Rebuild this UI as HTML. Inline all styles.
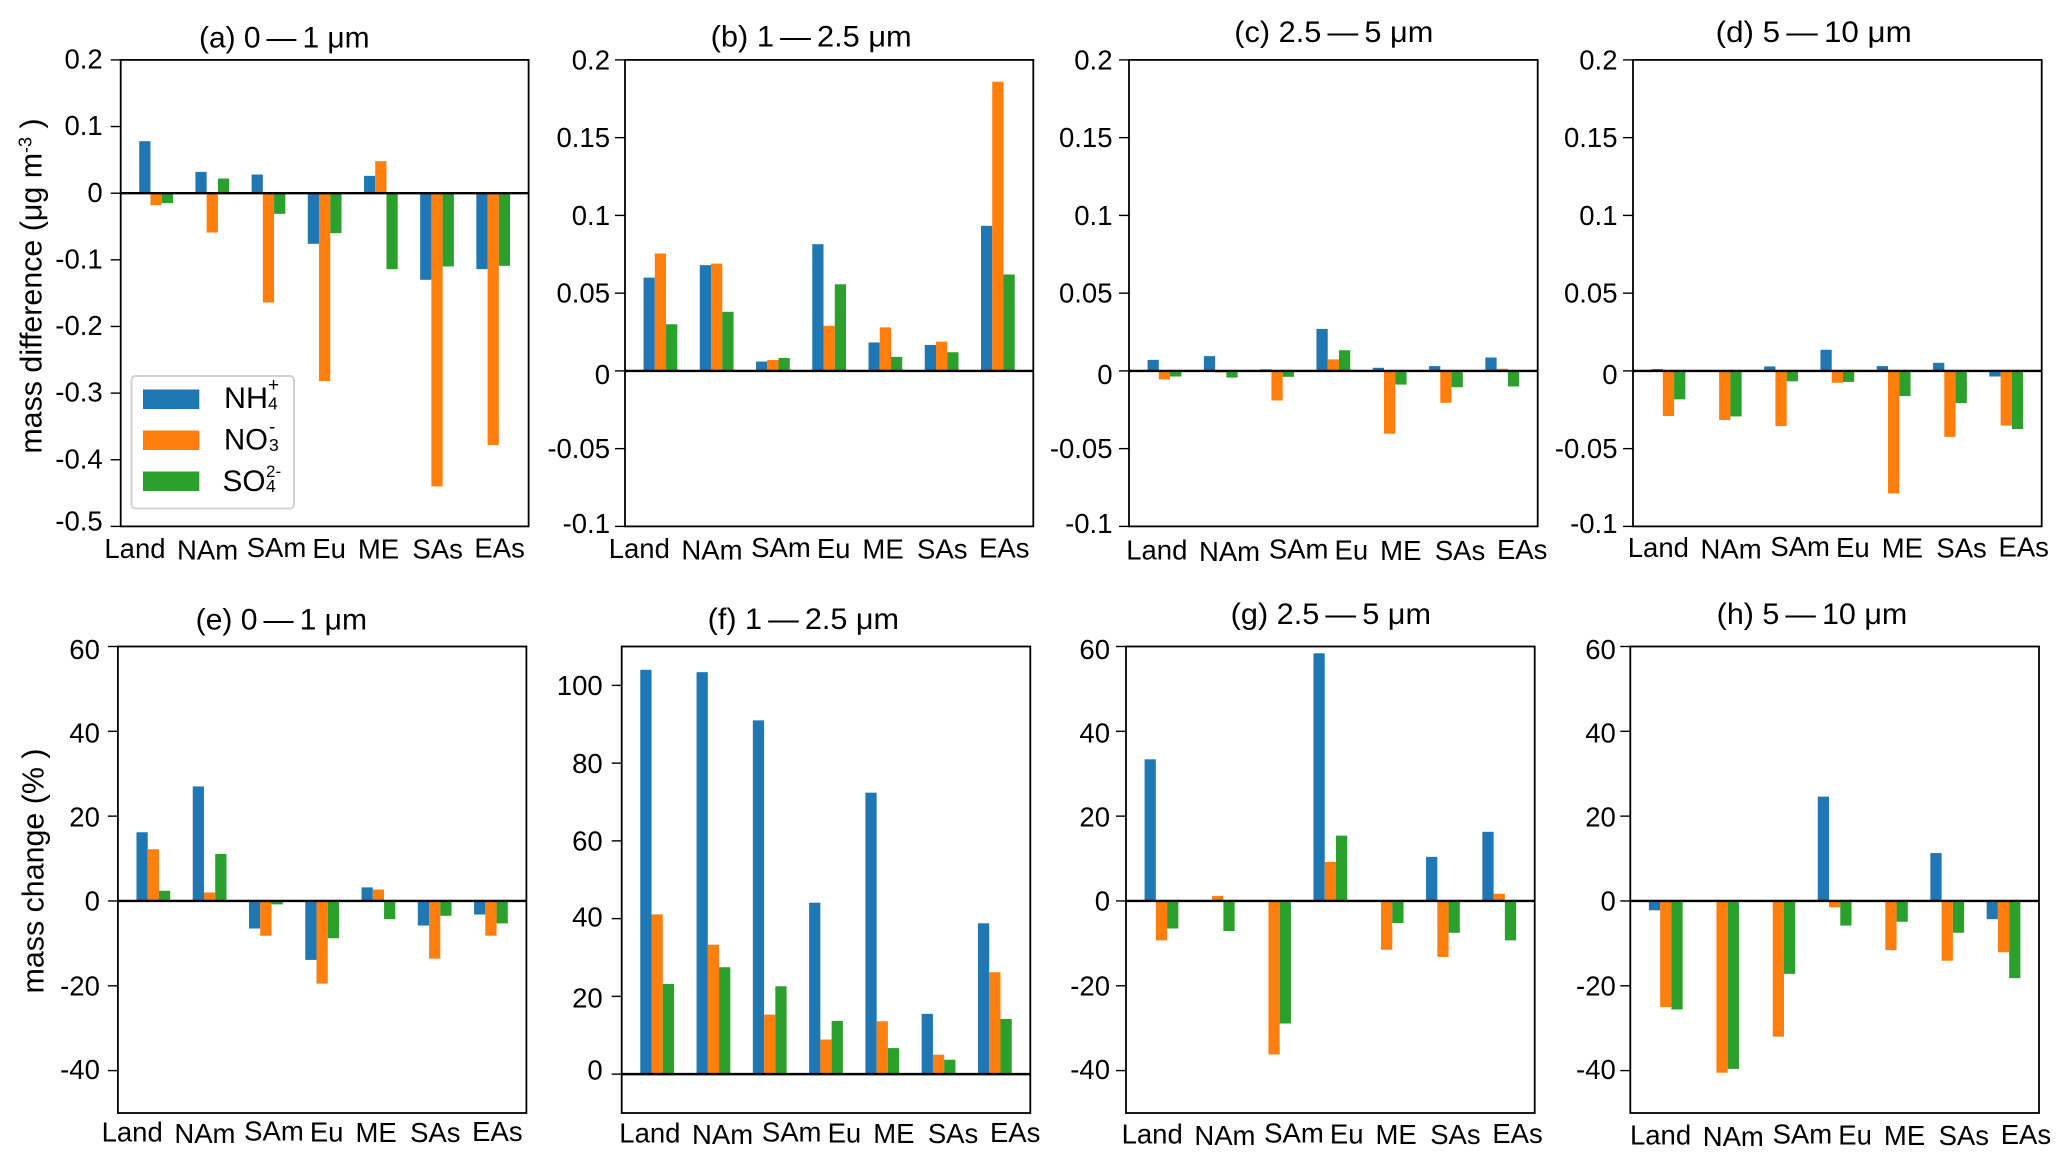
<!DOCTYPE html>
<html lang="en">
<head>
<meta charset="utf-8">
<title>Aerosol mass difference and change by size bin</title>
<style>
html,body{margin:0;padding:0;background:#fff;}
svg{display:block;}
text{font-family:"Liberation Sans",Arial,sans-serif;fill:#000;}
</style>
</head>
<body>
<svg id="figure" xmlns="http://www.w3.org/2000/svg" width="2067" height="1164" viewBox="0 0 2067 1164">
  <rect x="0" y="0" width="2067" height="1164" fill="#fff"/>
  <g id="panels"></g>
  <text font-size="30.4" text-anchor="middle" transform="translate(41.5 286) rotate(-90)">mass difference (μg m<tspan font-size="18" dy="-10">-3</tspan><tspan dy="10"> )</tspan></text>
  <text font-size="30.4" text-anchor="middle" transform="translate(43.5 871) rotate(-90)">mass change (% )</text>
  <g>
    <rect x="131.5" y="376" width="162.5" height="132.5" rx="4" ry="4" fill="#fff" stroke="#d2d2d2" stroke-width="2"/>
    <g>
      <rect x="143" y="389.5" width="56.3" height="19.5" fill="#1f77b4"/>
      <text x="224" y="408" font-size="30" textLength="44" lengthAdjust="spacingAndGlyphs">NH</text>
      <text x="268" y="409.5" font-size="17.5">4</text>
      <text x="268" y="391" font-size="19">+</text>
    </g>
    <g>
      <rect x="143" y="430.5" width="56.3" height="19.5" fill="#ff7f0e"/>
      <text x="224" y="449.5" font-size="30" textLength="44" lengthAdjust="spacingAndGlyphs">NO</text>
      <text x="269" y="451" font-size="17.5">3</text>
      <text x="269" y="433" font-size="19">-</text>
    </g>
    <g>
      <rect x="143" y="471.5" width="56.3" height="19.5" fill="#2ca02c"/>
      <text x="222.5" y="491" font-size="30" textLength="43" lengthAdjust="spacingAndGlyphs">SO</text>
      <text x="266" y="492" font-size="17.5">4</text>
      <text x="266" y="477" font-size="17">2-</text>
    </g>
  </g>
</svg>
<script>
// ---------- categories ----------
const categories = ["Land", "NAm", "SAm", "Eu", "ME", "SAs", "EAs"];

// ---------- tick labels ----------
const ticksA = [0.2, 0.1, 0, -0.1, -0.2, -0.3, -0.4, -0.5];
const ticksBCD = [0.2, 0.15, 0.1, 0.05, 0, -0.05, -0.1];
const ticksEGH = [60, 40, 20, 0, -20, -40];
const ticksF = [100, 80, 60, 40, 20, 0];

// ---------- series values ----------
const aNH4 = [0.078, 0.032, 0.028, -0.076, 0.026, -0.130, -0.114];
const aNO3 = [-0.018, -0.059, -0.164, -0.282, 0.048, -0.440, -0.378];
const aSO4 = [-0.015, 0.022, -0.031, -0.060, -0.114, -0.110, -0.109];

const bNH4 = [0.060, 0.068, 0.006, 0.0815, 0.0183, 0.0167, 0.0933];
const bNO3 = [0.0755, 0.069, 0.007, 0.029, 0.028, 0.0188, 0.186];
const bSO4 = [0.030, 0.038, 0.0083, 0.0557, 0.009, 0.012, 0.062];

const cNH4 = [0.0071, 0.0095, 0.001, 0.027, 0.002, 0.0031, 0.0086];
const cNO3 = [-0.0055, -0.001, -0.019, 0.0074, -0.0404, -0.0205, 0.0014];
const cSO4 = [-0.0036, -0.0043, -0.0038, 0.0133, -0.0088, -0.0105, -0.010];

const dNH4 = [0.0012, 0, 0.0029, 0.0136, 0.0031, 0.0052, -0.0036];
const dNO3 = [-0.029, -0.0316, -0.0355, -0.0076, -0.0788, -0.0424, -0.0352];
const dSO4 = [-0.0183, -0.0293, -0.0067, -0.0071, -0.0162, -0.0207, -0.0374];

const eNH4 = [16.2, 27, -6.5, -13.9, 3.2, -5.8, -3.2];
const eNO3 = [12.2, 2, -8.2, -19.5, 2.7, -13.6, -8.2];
const eSO4 = [2.4, 11.1, -0.8, -8.8, -4.3, -3.5, -5.3];

const fNH4 = [104, 103.4, 91, 44.1, 72.4, 15.5, 38.8];
const fNO3 = [41.1, 33.3, 15.3, 8.9, 13.6, 5, 26.2];
const fSO4 = [23.2, 27.5, 22.6, 13.7, 6.7, 3.7, 14.2];

const gNH4 = [33.4, 0, 0, 58.4, 0, 10.4, 16.3];
const gNO3 = [-9.3, 1.2, -36.2, 9.2, -11.5, -13.2, 1.7];
const gSO4 = [-6.5, -7.1, -28.9, 15.4, -5.2, -7.5, -9.3];

const hNH4 = [-2.2, 0, 0, 24.6, 0, 11.3, -4.3];
const hNO3 = [-25, -40.5, -32, -1.5, -11.6, -14.1, -12.1];
const hSO4 = [-25.6, -39.6, -17.2, -5.8, -4.9, -7.5, -18.2];

// ---------- series styling ----------
const seriesNames = ["nh4", "no3", "so4"];
const seriesColors = ["#1f77b4", "#ff7f0e", "#2ca02c"];

// ---------- layout ----------
const xMin = -0.63, xMax = 6.63, barWidth = 0.2;
const catLabelFrac = [0.035, 0.213, 0.382, 0.511, 0.632, 0.777, 0.929];
const catLabelDy = [0, 1.5, -1, 0, 0.5, 0.5, -0.5];
const topRowBox = { top: 59.9, bottom: 526.4 };
const botRowBox = { top: 646.5, bottom: 1113 };

// small hand-placed baseline offsets of individual y tick labels, keyed by tick text
const nudgeA = { "-0.5": -4.5 };
const nudgeBCD = { "0": 3.5, "-0.1": -3 };
const nudgeEGH = { "60": 3, "40": 1.5, "20": 1, "-40": -1 };
const nudgeF = { "0": -4.5, "40": -2, "20": 1.5 };

const panels = [
  { id: "a", title: "(a) 0\u2009—\u20091 μm", tx: [199, 369.6], tb: 47.4, left: 120.7, right: 528.6, row: topRowBox, yMin: -0.5, yMax: 0.2, ticks: ticksA, nudge: nudgeA, base: 8.6, nh4: aNH4, no3: aNO3, so4: aSO4, lblOff: -18, catShift: 0, catBase: 557.9 },
  { id: "b", title: "(b) 1\u2009—\u20092.5 μm", tx: [710.7, 911.7], tb: 46.6, left: 625, right: 1033.3, row: topRowBox, yMin: -0.1, yMax: 0.2, ticks: ticksBCD, nudge: nudgeBCD, base: 9.5, nh4: bNH4, no3: bNO3, so4: bSO4, lblOff: -15, catShift: 0, catBase: 557.9 },
  { id: "c", title: "(c) 2.5\u2009—\u20095 μm", tx: [1234.3, 1433.3], tb: 41.8, left: 1129, right: 1537.7, row: topRowBox, yMin: -0.1, yMax: 0.2, ticks: ticksBCD, nudge: nudgeBCD, base: 9.5, nh4: cNH4, no3: cNO3, so4: cSO4, lblOff: -16.5, catShift: 0.033, catBase: 559.4 },
  { id: "d", title: "(d) 5\u2009—\u200910 μm", tx: [1715.7, 1911.7], tb: 41.8, left: 1633, right: 2041.7, row: topRowBox, yMin: -0.1, yMax: 0.2, ticks: ticksBCD, nudge: nudgeBCD, base: 9.5, nh4: dNH4, no3: dNO3, so4: dSO4, lblOff: -15.5, catShift: 0.027, catBase: 557.2 },
  { id: "e", title: "(e) 0\u2009—\u20091 μm", tx: [195.7, 367], tb: 629.5, left: 117.9, right: 526.4, row: botRowBox, yMin: -50, yMax: 60, ticks: ticksEGH, nudge: nudgeEGH, base: 9.5, nh4: eNH4, no3: eNO3, so4: eSO4, lblOff: -18, catShift: 0, catBase: 1141.5 },
  { id: "f", title: "(f) 1\u2009—\u20092.5 μm", tx: [707.7, 899], tb: 629.1, left: 621.7, right: 1030.3, row: botRowBox, yMin: -10, yMax: 110, ticks: ticksF, nudge: nudgeF, base: 9.8, nh4: fNH4, no3: fNO3, so4: fSO4, lblOff: -19, catShift: 0.034, catBase: 1142.6 },
  { id: "g", title: "(g) 2.5\u2009—\u20095 μm", tx: [1230.7, 1431], tb: 624, left: 1126, right: 1534.7, row: botRowBox, yMin: -50, yMax: 60, ticks: ticksEGH, nudge: nudgeEGH, base: 9.5, nh4: gNH4, no3: gNO3, so4: gSO4, lblOff: -16, catShift: 0.029, catBase: 1143.7 },
  { id: "h", title: "(h) 5\u2009—\u200910 μm", tx: [1716.7, 1907.3], tb: 624, left: 1630.3, right: 2039, row: botRowBox, yMin: -50, yMax: 60, ticks: ticksEGH, nudge: nudgeEGH, base: 9.5, nh4: hNH4, no3: hNO3, so4: hSO4, lblOff: -14.5, catShift: 0.039, catBase: 1144.5 }
];

const SVG_NS = "http://www.w3.org/2000/svg";
const root = document.getElementById("panels");

function xScale(p, v) {
  return p.left + (v - xMin) / (xMax - xMin) * (p.right - p.left);
}
function yScale(p, v) {
  return p.row.top + (p.yMax - v) / (p.yMax - p.yMin) * (p.row.bottom - p.row.top);
}
function make(tag, attrs, parent) {
  const el = document.createElementNS(SVG_NS, tag);
  for (const k in attrs) el.setAttribute(k, attrs[k]);
  parent.appendChild(el);
  return el;
}

panels.forEach(function (p) {
  const g = make("g", {}, root);
  
  

  // bars
  [p.nh4, p.no3, p.so4].forEach(function (values, s) {
    values.forEach(function (v, i) {
      const x0 = xScale(p, i + (s - 1.5) * barWidth);
      const x1 = xScale(p, i + (s - 0.5) * barWidth);
      const y0 = yScale(p, 0);
      const yv = yScale(p, v);
      const bar = make("rect", {
        x: x0, y: Math.min(y0, yv), width: x1 - x0, height: Math.abs(yv - y0), fill: seriesColors[s]
      }, g);
      
      
    });
  });

  // zero line
  const zero = make("line", {
    x1: p.left, x2: p.right, y1: yScale(p, 0), y2: yScale(p, 0), stroke: "#000", "stroke-width": 2.4
  }, g);
  
  

  // frame
  const frame = make("rect", {
    x: p.left, y: p.row.top, width: p.right - p.left, height: p.row.bottom - p.row.top,
    fill: "none", stroke: "#000", "stroke-width": 1.8
  }, g);
  
  

  // y ticks
  p.ticks.forEach(function (t) {
    const y = yScale(p, t);
    const tick = make("line", {
      x1: p.left - 10, x2: p.left, y1: y, y2: y, stroke: "#000", "stroke-width": 1.4
    }, g);
    
    
    const nudge = p.nudge[String(t)] || 0;
    const lbl = make("text", {
      "text-anchor": "end", "font-size": 27.5, x: p.left + p.lblOff, y: y + p.base + nudge
    }, g);
    lbl.textContent = String(t);
    
    
  });

  // category labels
  categories.forEach(function (c, i) {
    const cx = p.left + (catLabelFrac[i] + p.catShift) * (p.right - p.left);
    const lbl = make("text", {
      "text-anchor": "middle", "font-size": 27.5, x: cx, y: p.catBase + catLabelDy[i]
    }, g);
    lbl.textContent = c;
    
    
  });

  // title
  const title = make("text", {
    x: p.tx[0], y: p.tb, "font-size": 30, textLength: p.tx[1] - p.tx[0], lengthAdjust: "spacingAndGlyphs"
  }, g);
  title.textContent = p.title;
  
  
});
</script>
</body>
</html>
